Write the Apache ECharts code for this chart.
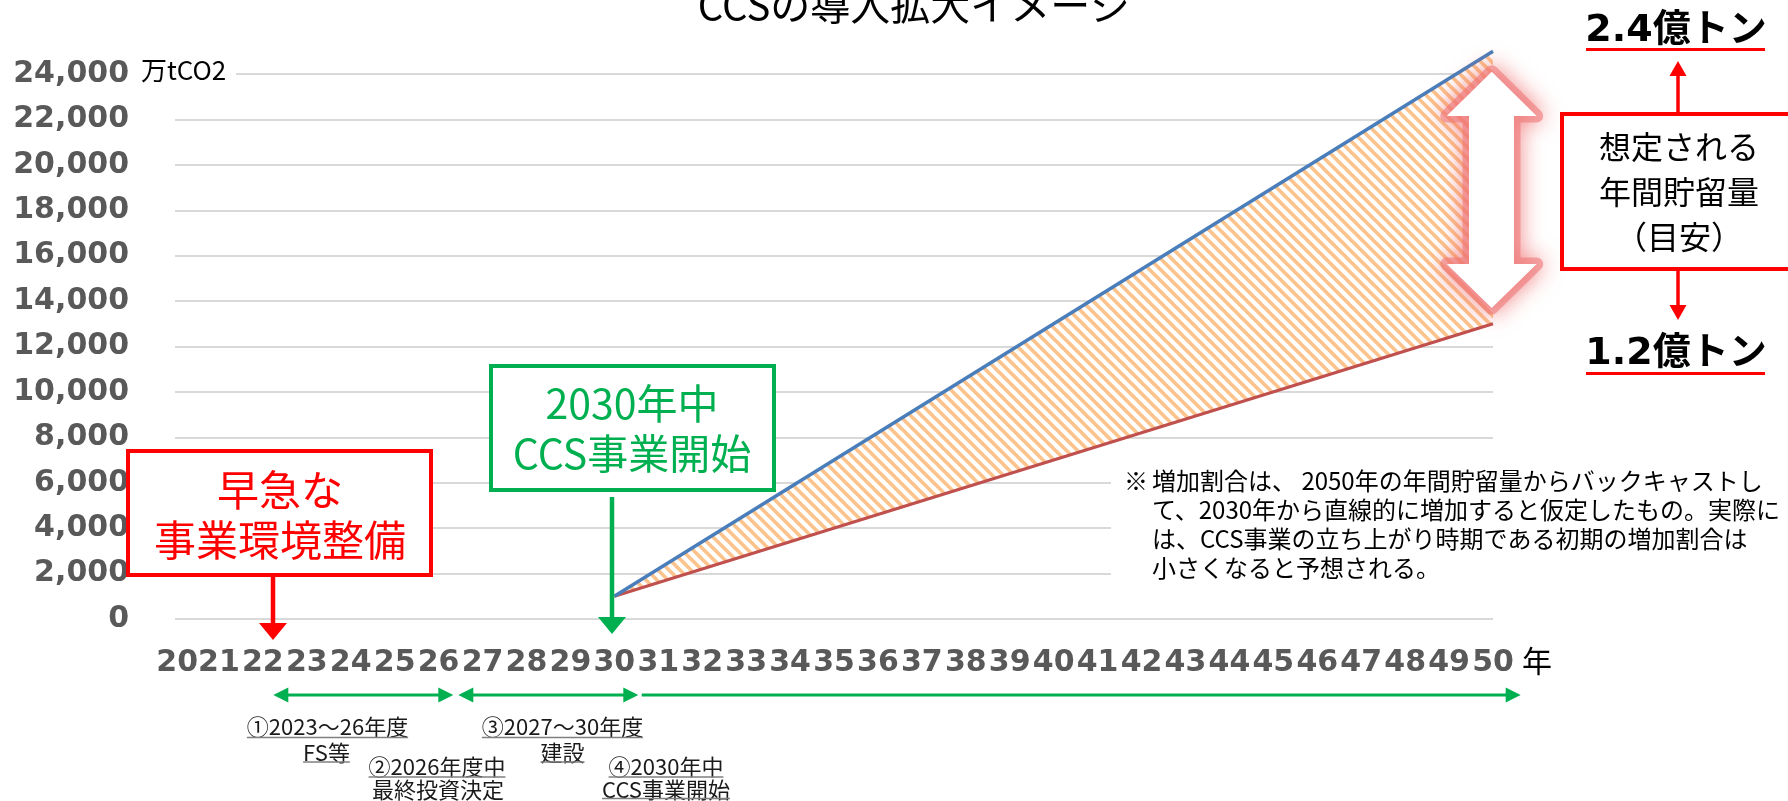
<!DOCTYPE html>
<html>
<head>
<meta charset="utf-8">
<script src="https://cdn.jsdelivr.net/npm/echarts@6/dist/echarts.min.js"></script>
<style>
html,body{margin:0;padding:0;background:#ffffff;}
#c{width:1788px;height:801px;}
</style>
</head>
<body>
<div id="c"></div>
<script>
// ---- data ----
const years = [2020,2021,2022,2023,2024,2025,2026,2027,2028,2029,2030,2031,2032,2033,2034,2035,2036,2037,2038,2039,2040,2041,2042,2043,2044,2045,2046,2047,2048,2049,2050];
const xTickLabels = ['','21','22','23','24','25','26','27','28','29','30','31','32','33','34','35','36','37','38','39','40','41','42','43','44','45','46','47','48','49','50'];
const seriesYears = [2030, 2050];
const upperValues = [1000, 25000];   // 2.4億トン scenario (blue)
const lowerValues = [1000, 13000];   // 1.2億トン scenario (red)
const yTicks = [0,2000,4000,6000,8000,10000,12000,14000,16000,18000,20000,22000,24000];

const CJK = '"Noto Sans CJK JP", "Noto Sans", sans-serif';
const NUM = '"DejaVu Sans", "Noto Sans CJK JP", sans-serif';

// hatch pattern (downward diagonal stripes)
function makeHatch() {
  const s = 11;
  const cv = document.createElement('canvas');
  cv.width = s; cv.height = s;
  const ctx = cv.getContext('2d');
  ctx.fillStyle = '#ffffff';
  ctx.fillRect(0, 0, s, s);
  ctx.strokeStyle = '#FCC38C';
  ctx.lineWidth = 3.7;
  ctx.beginPath();
  for (let k = -1; k <= 1; k++) {
    ctx.moveTo(k * s - 3, -3);
    ctx.lineTo(k * s + s + 3, s + 3);
  }
  ctx.stroke();
  return cv;
}
const hatch = makeHatch();

const pairs = (xs, vs) => xs.map((x, i) => [x, vs[i]]);

const chart = echarts.init(document.getElementById('c'), null, {renderer: 'canvas'});

const X_FONT_SIZE = 30;
const X_MARGIN = 29;

chart.setOption({
  animation: false,
  backgroundColor: '#ffffff',
  grid: {left: 175, right: 295, top: 74, bottom: 182, outerBoundsMode: 'none'},
  xAxis: {
    type: 'value',
    min: years[0], max: years[years.length - 1], interval: 1,
    axisLine: {show: false}, axisTick: {show: false}, splitLine: {show: false},
    axisLabel: {
      formatter: v => xTickLabels[Math.round(v - years[0])] || '',
      fontFamily: NUM, fontWeight: 'bold', fontSize: X_FONT_SIZE, color: '#595959',
      margin: X_MARGIN, showMinLabel: true, showMaxLabel: true, hideOverlap: false
    }
  },
  yAxis: {
    type: 'value',
    min: yTicks[0], max: yTicks[yTicks.length - 1], interval: yTicks[1] - yTicks[0],
    axisLine: {show: false}, axisTick: {show: false},
    splitLine: {show: true, lineStyle: {color: '#D9D9D9', width: 2}},
    axisLabel: {
      formatter: v => String(v).replace(/\B(?=(\d{3})+(?!\d))/g, ','),
      fontFamily: NUM, fontWeight: 'bold', fontSize: 30, color: '#595959',
      margin: 46, padding: [0, 0, 9, 0]
    }
  },
  series: [
    {
      name: 'band', type: 'custom', z: 2, clip: false,
      data: [[seriesYears[0], lowerValues[0]]],
      renderItem: function (params, api) {
        const pts = [];
        for (let i = 0; i < seriesYears.length; i++) pts.push(api.coord([seriesYears[i], upperValues[i]]));
        for (let i = seriesYears.length - 1; i >= 0; i--) pts.push(api.coord([seriesYears[i], lowerValues[i]]));
        return {type: 'polygon', shape: {points: pts}, style: {fill: {image: hatch, repeat: 'repeat'}, stroke: null}};
      }
    },
    {
      name: 'lower', type: 'line', data: pairs(seriesYears, lowerValues),
      symbol: 'none', clip: false, z: 4,
      lineStyle: {color: '#C0504D', width: 3.2}
    },
    {
      name: 'upper', type: 'line', data: pairs(seriesYears, upperValues),
      symbol: 'none', clip: false, z: 5,
      lineStyle: {color: '#4A7EBB', width: 3.5}
    }
  ]
});

// ---- annotations ----
const mctx = document.createElement('canvas').getContext('2d');
function measure(str, font) { mctx.font = font; return mctx.measureText(str).width; }

const G = [];
let zc = 100;
function txt(x, y, str, o) {
  o = o || {};
  G.push({type: 'text', x: x, y: y, z: o.z || zc, style: {
    text: str, fill: o.fill || '#000', fontSize: o.size || 20, fontFamily: o.family || CJK,
    fontWeight: o.weight || 'normal', align: o.align || 'center', verticalAlign: o.va || 'middle',
    lineHeight: o.lh
  }});
}
function ln(x1, y1, x2, y2, color, w, z) {
  G.push({type: 'line', z: z || zc, shape: {x1, y1, x2, y2}, style: {stroke: color, lineWidth: w}});
}
function rect(x, y, w, h, fill, stroke, lw, z) {
  G.push({type: 'rect', z: z || zc, shape: {x, y, width: w, height: h}, style: {fill: fill, stroke: stroke || null, lineWidth: lw || 0}});
}
function head(tx, ty, dir, len, half, color, z) {
  let pts;
  if (dir === 'down') pts = [[tx, ty], [tx - half, ty - len], [tx + half, ty - len]];
  else if (dir === 'up') pts = [[tx, ty], [tx - half, ty + len], [tx + half, ty + len]];
  else if (dir === 'right') pts = [[tx, ty], [tx - len, ty - half], [tx - len, ty + half]];
  else pts = [[tx, ty], [tx + len, ty - half], [tx + len, ty + half]];
  G.push({type: 'polygon', z: z || zc, shape: {points: pts}, style: {fill: color}});
}
function underlined(x, y, str, size, uy, color) {
  txt(x, y, str, {size: size, fill: color || '#1a1a1a'});
  const w = measure(str, size + 'px ' + CJK);
  ln(x - w / 2, uy, x + w / 2, uy, '#7F7F7F', 1.5);
}

// title (partly cut at top)
txt(914, 5, 'CCSの導入拡大イメージ', {size: 40});

// unit label
rect(176, 63, 60, 22, '#ffffff');
txt(141, 70, '万tCO2', {size: 26, align: 'left', z: 101});

// x-axis extra: "20" prefix of 2021, and unit 年
const px2021 = chart.convertToPixel({xAxisIndex: 0}, years[1]);
const py0 = chart.convertToPixel({yAxisIndex: 0}, yTicks[0]);
const halfLab = measure(xTickLabels[1], 'bold ' + X_FONT_SIZE + 'px ' + NUM) / 2;
txt(px2021 - halfLab, py0 + X_MARGIN, String(years[1]).slice(0, 2), {
  size: X_FONT_SIZE, family: NUM, weight: 'bold', fill: '#595959', align: 'right', va: 'top'
});
txt(1522, 661, '年', {size: 30, align: 'left'});

// red box: 早急な 事業環境整備
rect(128, 451, 303, 124, '#ffffff', '#FF0000', 4);
txt(280, 515, '早急な\n事業環境整備', {size: 42, fill: '#FF0000', lh: 50, z: 101});
ln(273, 577, 273, 624, '#FF0000', 4.5);
head(273, 640, 'down', 17, 14, '#FF0000');

// green box: 2030年中 CCS事業開始
rect(491, 366, 283, 124, '#ffffff', '#00B050', 4);
txt(632, 428, '2030年中\nCCS事業開始', {size: 41, fill: '#00B050', lh: 50, z: 101});
ln(612, 497, 612, 618, '#00B050', 4.5);
head(612, 634, 'down', 17, 14, '#00B050');

// glowing white double arrow
const dbl = [[1491.7, 71.7], [1536.7, 116], [1514, 116], [1514, 264], [1536.7, 264], [1491.7, 308],
             [1446.7, 264], [1469, 264], [1469, 116], [1446.7, 116]];
G.push({type: 'polygon', z: 98, shape: {points: dbl}, style: {
  fill: 'rgba(238,120,120,0.6)', stroke: 'rgba(238,120,120,0.6)', lineWidth: 13, lineJoin: 'round',
  shadowBlur: 22, shadowColor: 'rgba(238,100,100,1)'
}});
G.push({type: 'polygon', z: 99, shape: {points: dbl}, style: {fill: '#ffffff'}});

// right red box
rect(1562, 114, 260, 155, '#ffffff', '#FF0000', 4);
txt(1679, 192, '想定される\n年間貯留量\n（目安）', {size: 32, lh: 45, z: 101});
ln(1678, 112, 1678, 76, '#FF0000', 3.5);
head(1678, 61, 'up', 15, 8.5, '#FF0000');
ln(1678, 271, 1678, 306, '#FF0000', 3.5);
head(1678, 320, 'down', 15, 8.5, '#FF0000');

txt(1676, 31, '2.4億トン', {size: 38, family: NUM, weight: 'bold'});
ln(1586, 49.5, 1765, 49.5, '#FF0000', 3);
txt(1676, 354, '1.2億トン', {size: 38, family: NUM, weight: 'bold'});
ln(1586, 373.5, 1765, 373.5, '#FF0000', 3);

// note
rect(1111, 458, 700, 135, '#ffffff');
txt(1124, 481, '※', {size: 24, align: 'left', z: 101});
txt(1152, 466.5, '増加割合は、 2050年の年間貯留量からバックキャストし\nて、2030年から直線的に増加すると仮定したもの。実際に\nは、CCS事業の立ち上がり時期である初期の増加割合は\n小さくなると予想される。',
    {size: 24, align: 'left', va: 'top', lh: 29, z: 101});

// schedule arrows under axis
const GR = '#00B050';
const ay = 695;
ln(273.3 + 14, ay, 453.3 - 14, ay, GR, 3);
head(273.3, ay, 'left', 15, 7.5, GR); head(453.3, ay, 'right', 15, 7.5, GR);
ln(458.3 + 14, ay, 638.3 - 14, ay, GR, 3);
head(458.3, ay, 'left', 15, 7.5, GR); head(638.3, ay, 'right', 15, 7.5, GR);
ln(641.7, ay, 1520.7 - 14, ay, GR, 3);
head(1520.7, ay, 'right', 15, 7.5, GR);

// schedule texts
underlined(327.5, 726.5, '①2023～26年度', 22, 737.5);
underlined(326.5, 752.5, 'FS等', 22, 762);
underlined(437, 766.5, '②2026年度中', 22, 777);
txt(438, 790, '最終投資決定', {size: 22, fill: '#1a1a1a'});
underlined(562.5, 726.5, '③2027～30年度', 22, 737.5);
underlined(562.5, 752.5, '建設', 22, 762);
underlined(666, 766.5, '④2030年中', 22, 777);
underlined(666, 790, 'CCS事業開始', 22, 798.5);

chart.setOption({graphic: {elements: G}});
</script>
</body>
</html>
